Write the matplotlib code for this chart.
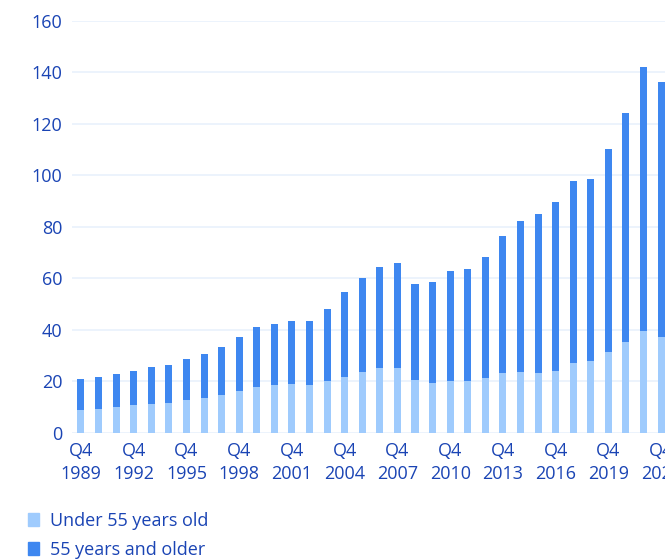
import numpy as np
import matplotlib
matplotlib.use("Agg")
import matplotlib.pyplot as plt
from matplotlib.patches import Patch

# Values (same units as the y axis)
years = list(range(1989, 2023))
total = [20.7, 21.5, 22.8, 24.1, 25.4, 26.2, 28.7, 30.4, 33.4, 37.2,
         41.0, 42.3, 43.5, 43.5, 48.2, 54.5, 60.2, 64.4, 66.0, 57.6,
         58.4, 62.7, 63.6, 68.2, 76.3, 82.2, 84.8, 89.5, 97.9, 98.4,
         110.2, 124.2, 142.0, 136.2]
under_55 = [8.8, 9.3, 9.9, 10.6, 11.0, 11.4, 12.7, 13.6, 14.8, 16.2,
            17.9, 18.5, 19.0, 18.5, 20.0, 21.6, 23.7, 25.0, 25.0, 20.3,
            19.4, 20.0, 20.0, 21.1, 23.2, 23.7, 23.2, 24.1, 27.1, 27.8,
            31.3, 35.2, 39.4, 37.2]
over_55 = [t - u for t, u in zip(total, under_55)]
yticks = [0, 20, 40, 60, 80, 100, 120, 140, 160]

LIGHT = "#9fcbfd"
DARK = "#3e87f0"
TEXT = "#1a44b4"
GRID = "#e9f1fc"

plt.rcParams["font.family"] = ["Open Sans", "DejaVu Sans"]

fig = plt.figure(figsize=(6.65, 5.6), dpi=100)
ax = fig.add_axes([72 / 665, (560 - 432.7) / 560, 1 - 72 / 665, 412 / 560])

x = np.arange(len(years))
ax.bar(x, under_55, width=0.4, color=LIGHT, zorder=3)
ax.bar(x, over_55, width=0.4, bottom=under_55, color=DARK, zorder=3)

ax.set_xlim(-0.51, 33.22)
ax.set_ylim(0, 160)
ax.set_yticks(yticks)
ax.set_yticklabels([str(v) for v in yticks])
ax.yaxis.grid(True, color=GRID, linewidth=1.2, zorder=0)
ax.set_axisbelow(True)

tick_pos = x[::3]
ax.set_xticks(tick_pos)
ax.set_xticklabels([f"Q4\n{years[i]}" for i in tick_pos], linespacing=1.3)

ax.tick_params(axis="both", length=0, labelsize=13, labelcolor=TEXT)
ax.tick_params(axis="y", pad=7)
ax.tick_params(axis="x", pad=7)
for s in ax.spines.values():
    s.set_visible(False)

handles = [Patch(color=LIGHT, label="Under 55 years old"),
           Patch(color=DARK, label="55 years and older")]
leg = fig.legend(handles=handles, loc="upper left", bbox_to_anchor=(0.042, 0.086),
                 frameon=False, fontsize=13, handlelength=0.6, handleheight=0.75,
                 handletextpad=0.6, labelspacing=0.6, borderaxespad=0,
                 borderpad=0)
for t in leg.get_texts():
    t.set_color(TEXT)

fig.savefig("out.png", dpi=100)
